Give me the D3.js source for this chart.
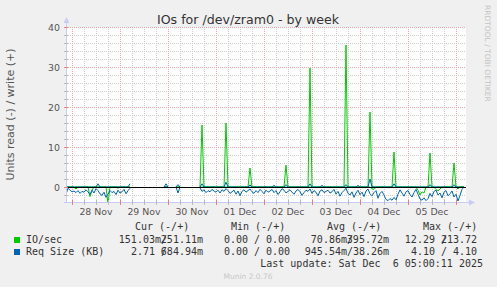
<!DOCTYPE html>
<html>
<head>
	<meta charset="utf-8">
	<title>IOs for /dev/zram0 - by week</title>
	<script type="text/javascript" src="https://cdn.jsdelivr.net/npm/d3@7"></script>
	<style>
		body { margin: 0; background: #f0f0f0; }
		svg { display: block; }
		text { font-family: "DejaVu Sans", sans-serif; }
		.mono { font-family: "DejaVu Sans Mono", monospace; font-size: 10px; fill: #333; }
	</style>
</head>
<body>
	<div id="chart"></div>
	<script>

		// data (one sample per hour, hour 0 = 27 Nov 21:00 UTC)

		const startTime = Date.UTC(2025, 10, 27, 21);
		const nHours    = 200;
		const dataRanges = [[0, 32], [49, 51], [55, 57], [67, 199]];

		// IO/sec write (+)
		const writeIoHours  = [68, 80, 92, 110, 122, 140, 152, 164, 182, 194];
		const writeIoValues = [15.5, 16, 4.75, 5.5, 29.75, 35.5, 18.75, 8.75, 8.5, 6];

		// IO/sec read (-)
		const readIoHours  = [5, 12, 13, 21, 26, 153, 154, 176, 177, 178, 179, 185, 186, 187, 196];
		const readIoValues = [-0.5, -2.4, -0.8, -4.2, -0.3, -0.4, -0.6, -0.8, -2.0, -1.2, -1.5, -0.6, -1.0, -0.5, -0.5];

		// Req Size write (+)
		const writeReqHours  = [16, 32, 50, 56, 68, 80, 92, 104, 110, 122, 128, 140, 146, 152, 164, 182, 194];
		const writeReqValues = [0.8, 0.8, 0.8, 0.6, 0.8, 1.2, 0.5, 0.4, 0.6, 0.8, 0.4, 0.6, 0.4, 2.0, 0.8, 0.6, 0.6];

		// Req Size read (-)
		const readReqFrom1 = 0;
		const readReq1 = [-1.8, -0.3, -0.8, -1.2, -1.0, -1.4, -0.9, -1.6, -1.1, -1.3, -0.7, -1.2, -1.9, -0.8, -1.5, -0.4,
			-0.9, -1.7, -2.1, -1.3, -2.6, -1.8, -0.9, -1.4, -1.1, -1.9, -0.8, -1.5, -1.2, -0.6, -1.7, -0.9, -0.3];
		const readReqFrom2 = 67;
		const readReq2 = [-0.2, -1.1, -0.7, -1.4, -0.9, -1.2, -0.6, -1.0, -1.3, -0.8, -1.5, -0.7, -1.1, -0.4, -0.9, -1.6,
			-1.2, -0.8, -1.8, -1.0, -2.2, -1.1, -0.7, -1.3, -0.9, -0.5, -1.2, -1.6, -0.9, -1.4, -0.6, -1.1, -1.7, -0.8,
			-1.3, -1.0, -0.6, -1.4, -0.9, -1.9, -1.2, -0.4, -0.8, -1.5, -1.1, -0.7, -1.3, -1.8, -1.0, -0.6, -1.2, -2.1,
			-1.4, -0.8, -1.1, -0.5, -1.6, -0.9, -1.3, -2.2, -1.0, -0.7, -1.4, -1.1, -0.8, -1.5,
			-1.2, -0.6, -1.8, -1.1, -2.3, -1.4, -0.9, -0.3, -1.6, -2.0, -1.2, -2.6, -1.5, -0.8, -1.9, -1.3, -2.4, -1.0,
			-0.5, -1.7, -2.2, -1.4, -0.9, -2.8, -1.6, -1.1, -2.0, -3.1, -3.4, -2.9, -3.3, -2.6, -3.2, -1.8, -0.7, -1.5,
			-2.3, -1.2, -0.9, -1.9, -2.5, -1.4, -0.6, -1.8, -3.0, -3.3, -2.7, -3.4, -2.9, -1.6, -2.4, -1.1, -0.8, -2.0,
			-1.5, -2.7, -1.3, -0.9, -2.2, -1.7, -1.0, -2.5, -1.8, -3.5, -2.1, -0.6];
		const readReqBlipHours  = [56];
		const readReqBlipValues = [-1.5];

		// legend
		const legendNames  = ["IO/sec", "Req Size (KB)"];
		const legendColors = ["#00cc00", "#0066b3"];
		const legendHeads  = ["Cur (-/+)", "Min (-/+)", "Avg (-/+)", "Max (-/+)"];
		const legendNeg = [
			["151.03m/", "0.00 /", "70.86m/", "12.29 /"],
			["2.71 /", "0.00 /", "945.54m/", "4.10 /"]
		];
		const legendPos = [
			["251.11m", "0.00", "395.72m", "213.72"],
			["684.94m", "0.00", "38.26m", "4.10"]
		];
		const lastUpdate = "Last update: Sat Dec  6 05:00:11 2025";

		// build hourly series

		const hourMs = 3600e3;
		function inData(h) { return dataRanges.some(([a, b]) => h >= a && h <= b); }
		function sparse(hours, values) {
			const s = d3.range(nHours).map(h => inData(h) ? 0 : null);
			hours.forEach((h, i) => s[h] = values[i]);
			return s;
		}
		const writeIo  = sparse(writeIoHours, writeIoValues);
		const readIo   = sparse(readIoHours, readIoValues);
		const writeReq = sparse(writeReqHours, writeReqValues);
		const readReq  = sparse(readReqBlipHours, readReqBlipValues);
		readReq1.forEach((v, i) => readReq[readReqFrom1 + i] = v);
		readReq2.forEach((v, i) => { if (readReqFrom2 + i < nHours) readReq[readReqFrom2 + i] = v; });

		// chart

		const width = 497, height = 287;
		const pLeft = 66, pRight = 466, pTop = 27, pBottom = 202;

		const x = d3.scaleUtc()
			.domain([startTime, startTime + nHours * hourMs])
			.range([pLeft, pRight]);
		const y = d3.scaleLinear()
			.domain([-3.75, 40])
			.range([pBottom, pTop]);

		const svg = d3.select("#chart").append("svg")
			.attr("width", width)
			.attr("height", height)
			.attr("viewBox", [0, 0, width, height]);

		svg.append("rect").attr("width", width).attr("height", height).attr("fill", "#f0f0f0");
		svg.append("rect")
			.attr("x", pLeft).attr("y", pTop)
			.attr("width", pRight - pLeft).attr("height", pBottom - pTop)
			.attr("fill", "#fff");

		// grid
		const grid = svg.append("g").attr("shape-rendering", "crispEdges");
		const minorY = d3.range(-2, 40, 2).filter(v => v % 10 !== 0);
		const majorY = [0, 10, 20, 30, 40];
		const t0 = new Date(startTime), t1 = new Date(startTime + nHours * hourMs);
		const minorX = d3.utcHour.every(6).range(t0, t1).filter(d => d.getUTCHours() !== 0);
		const majorX = d3.utcDay.range(t0, t1);
		const px = v => Math.round(v) + 0.5;

		grid.selectAll(".hmin").data(minorY).join("line")
			.attr("x1", pLeft).attr("x2", pRight)
			.attr("y1", d => px(y(d))).attr("y2", d => px(y(d)))
			.attr("stroke", "#cfcfcf").attr("stroke-dasharray", "1,1");
		grid.selectAll(".vmin").data(minorX).join("line")
			.attr("x1", d => px(x(d))).attr("x2", d => px(x(d)))
			.attr("y1", pTop).attr("y2", pBottom)
			.attr("stroke", "#cfcfcf").attr("stroke-dasharray", "1,1");
		grid.selectAll(".hmaj").data(majorY).join("line")
			.attr("x1", pLeft).attr("x2", pRight)
			.attr("y1", d => px(y(d))).attr("y2", d => px(y(d)))
			.attr("stroke", "#f0a8a8").attr("stroke-dasharray", "1,1");
		grid.selectAll(".vmaj").data(majorX).join("line")
			.attr("x1", d => px(x(d))).attr("x2", d => px(x(d)))
			.attr("y1", pTop).attr("y2", pBottom)
			.attr("stroke", "#f0a8a8").attr("stroke-dasharray", "1,1");

		// series
		svg.append("clipPath").attr("id", "clip")
			.append("rect").attr("x", pLeft).attr("y", pTop).attr("width", pRight - pLeft).attr("height", pBottom - pTop);

		const line = d3.line()
			.defined(d => d != null)
			.x((d, i) => x(startTime + i * hourMs))
			.y(d => y(d));

		const plot = svg.append("g").attr("clip-path", "url(#clip)");
		[[readIo, "#00cc00"], [writeIo, "#00cc00"], [readReq, "#0066b3"], [writeReq, "#0066b3"]]
			.forEach(([s, c]) => plot.append("path")
				.attr("d", line(s))
				.attr("fill", "none")
				.attr("stroke", c)
				.attr("stroke-width", 1));

		// zero line
		svg.append("line")
			.attr("x1", pLeft).attr("x2", pRight)
			.attr("y1", px(y(0))).attr("y2", px(y(0)))
			.attr("stroke", "#000").attr("shape-rendering", "crispEdges");

		// axes
		const axisColor = "#c8ccf4";
		svg.append("line")
			.attr("x1", pLeft + 0.5).attr("x2", pLeft + 0.5).attr("y1", pBottom + 1).attr("y2", pTop - 6)
			.attr("stroke", axisColor).attr("shape-rendering", "crispEdges");
		svg.append("path").attr("d", `M${pLeft - 2.5},${pTop - 4}L${pLeft + 3.5},${pTop - 4}L${pLeft + 0.5},${pTop - 10}Z`).attr("fill", axisColor);
		svg.append("line")
			.attr("x1", pLeft - 2).attr("x2", pRight + 5).attr("y1", pBottom + 0.5).attr("y2", pBottom + 0.5)
			.attr("stroke", axisColor).attr("shape-rendering", "crispEdges");
		svg.append("path").attr("d", `M${pRight + 3},${pBottom - 2.5}L${pRight + 3},${pBottom + 3.5}L${pRight + 9},${pBottom + 0.5}Z`).attr("fill", axisColor);

		// tick marks
		const ticks = svg.append("g").attr("shape-rendering", "crispEdges");
		ticks.selectAll(".xt").data(minorX).join("line")
			.attr("x1", d => px(x(d))).attr("x2", d => px(x(d)))
			.attr("y1", pBottom - 2).attr("y2", pBottom + 3).attr("stroke", "#bbb");
		ticks.selectAll(".xT").data(majorX).join("line")
			.attr("x1", d => px(x(d))).attr("x2", d => px(x(d)))
			.attr("y1", pBottom - 2).attr("y2", pBottom + 3).attr("stroke", "#f08080");
		ticks.selectAll(".yt").data(minorY).join("line")
			.attr("x1", pLeft - 2).attr("x2", pLeft + 2)
			.attr("y1", d => px(y(d))).attr("y2", d => px(y(d))).attr("stroke", "#bbb");
		ticks.selectAll(".yT").data(majorY).join("line")
			.attr("x1", pLeft - 2).attr("x2", pLeft + 2)
			.attr("y1", d => px(y(d))).attr("y2", d => px(y(d))).attr("stroke", "#f08080");

		// tick labels
		svg.selectAll(".ylab").data(majorY).join("text")
			.attr("x", pLeft - 6).attr("y", d => y(d) + 3.5)
			.attr("text-anchor", "end").attr("font-size", "9.4px").attr("fill", "#555")
			.text(d => d);
		const fmt = d3.utcFormat("%d %b");
		const dayLabels = majorX.filter(d => d3.utcHour.offset(d, 12) < t1);
		svg.selectAll(".xlab").data(dayLabels).join("text")
			.attr("x", d => x(d3.utcHour.offset(d, 12))).attr("y", pBottom + 13)
			.attr("text-anchor", "middle").attr("font-size", "9.4px").attr("fill", "#555")
			.text(d => fmt(d));

		// titles
		svg.append("text")
			.attr("x", 248).attr("y", 24)
			.attr("text-anchor", "middle").attr("font-size", "12.6px").attr("fill", "#333")
			.text("IOs for /dev/zram0 - by week");
		svg.append("text")
			.attr("transform", `translate(14,${(pTop + pBottom) / 2}) rotate(-90)`)
			.attr("text-anchor", "middle").attr("font-size", "11px").attr("fill", "#555")
			.text("Units read (-) / write (+)");
		svg.append("text")
			.attr("transform", "translate(485,5) rotate(90)")
			.attr("text-anchor", "start").attr("font-size", "7.5px").attr("fill", "#c4c4c4")
			.text("RRDTOOL / TOBI OETIKER");

		// legend
		const headX = [135, 231, 327, 423];
		const negEnd = [167, 260, 353, 447];
		const posEnd = [203, 290, 389, 477];
		svg.selectAll(".head").data(legendHeads).join("text")
			.attr("class", "mono").attr("x", (d, i) => headX[i]).attr("y", 230)
			.text(d => d);
		legendNames.forEach((name, r) => {
			const ry = 243 + r * 12;
			svg.append("rect").attr("x", 14).attr("y", ry - 6).attr("width", 6).attr("height", 6).attr("fill", legendColors[r]);
			svg.append("text").attr("class", "mono").attr("x", 26).attr("y", ry).text(name);
			legendNeg[r].forEach((t, c) => svg.append("text").attr("class", "mono")
				.attr("x", negEnd[c]).attr("y", ry).attr("text-anchor", "end").text(t));
			legendPos[r].forEach((t, c) => svg.append("text").attr("class", "mono")
				.attr("x", posEnd[c]).attr("y", ry).attr("text-anchor", "end").text(t));
		});
		svg.append("text").attr("class", "mono")
			.attr("x", 483).attr("y", 267).attr("text-anchor", "end")
			.attr("xml:space", "preserve").style("white-space", "pre")
			.text(lastUpdate);
		svg.append("text")
			.attr("x", 248).attr("y", 279)
			.attr("text-anchor", "middle").attr("font-size", "7.5px").attr("fill", "#c8c8c8")
			.text("Munin 2.0.76");

	</script>
</body>
</html>
